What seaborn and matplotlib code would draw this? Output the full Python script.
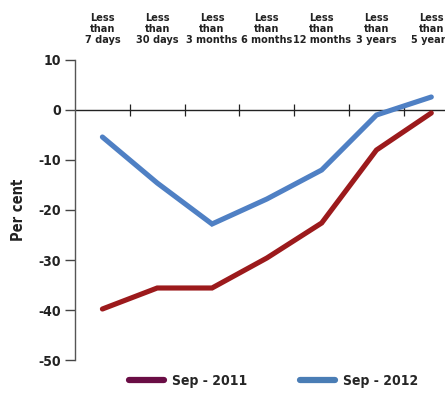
import pandas as pd
import matplotlib.pyplot as plt
import seaborn as sns
from matplotlib.lines import Line2D

categories = ["Less\nthan\n7 days", "Less\nthan\n30 days", "Less\nthan\n3 months",
              "Less\nthan\n6 months", "Less\nthan\n12 months", "Less\nthan\n3 years",
              "Less\nthan\n5 years"]
sep_2011 = [-39.8, -35.6, -35.6, -29.6, -22.6, -8.0, -0.6]
sep_2012 = [-5.4, -14.6, -22.8, -17.8, -12.0, -1.0, 2.6]
series_names = ["Sep - 2011", "Sep - 2012"]
yticks = [10, 0, -10, -20, -30, -40, -50]

df = pd.DataFrame({
    "pos": list(range(len(categories))) * 2,
    "value": sep_2011 + sep_2012,
    "series": [series_names[0]] * len(categories) + [series_names[1]] * len(categories),
})

sns.set_style("white")
plt.rcParams['font.family'] = ['DejaVu Sans']
plt.rcParams['font.stretch'] = 'condensed'

line_colors = {"Sep - 2011": "#9c1a1c", "Sep - 2012": "#4f80c4"}
legend_colors = ["#6a0d45", "#4a7db5"]
txt = "#222222"

fig = plt.figure(figsize=(4.45, 3.93), dpi=100)
ax = fig.add_axes([75 / 445, 1 - 360 / 393, 1 - 75 / 445, 300 / 393])

sns.lineplot(data=df, x="pos", y="value", hue="series", palette=line_colors,
             linewidth=3.7, legend=False, ax=ax, solid_capstyle="round",
             solid_joinstyle="miter")

# zero line with small cross ticks between categories
ax.axhline(0, color=txt, linewidth=1, zorder=1)
ax.plot([i + 0.5 for i in range(len(categories) - 1)], [0] * (len(categories) - 1),
        linestyle="none", marker="|", markersize=8, color=txt,
        markeredgewidth=0.9, zorder=1)

ax.set_xlim(-0.5, 6.25)
ax.set_ylim(-50, 10)
ax.set_yticks(yticks)
ax.set_yticklabels([str(t) for t in yticks], fontweight="bold", fontsize=10, color=txt)
ax.set_xticks(range(len(categories)))
ax.set_xticklabels(categories, fontweight="bold", fontsize=7.8, linespacing=1.15, color=txt)
ax.tick_params(axis="x", bottom=False, top=False, labelbottom=False, labeltop=True, pad=7)
ax.tick_params(axis="y", left=True, length=7, width=1, color="#444444", pad=3)
ax.set_xlabel("")
ax.set_ylabel("Per cent", fontweight="bold", fontsize=10.5, labelpad=9, color=txt)

for s in ["top", "right", "bottom"]:
    ax.spines[s].set_visible(False)
ax.spines["left"].set_color("#555555")
ax.spines["left"].set_linewidth(1)

handles = [Line2D([0], [0], color=c, linewidth=4.5, solid_capstyle="round") for c in legend_colors]
fig.legend(handles, series_names, loc="lower center", bbox_to_anchor=(0.615, -0.02), ncol=2,
           frameon=False, handlelength=2.5, columnspacing=3.8, handletextpad=0.6,
           prop={"weight": "bold", "size": 10})

fig.savefig("out.png", dpi=100)
